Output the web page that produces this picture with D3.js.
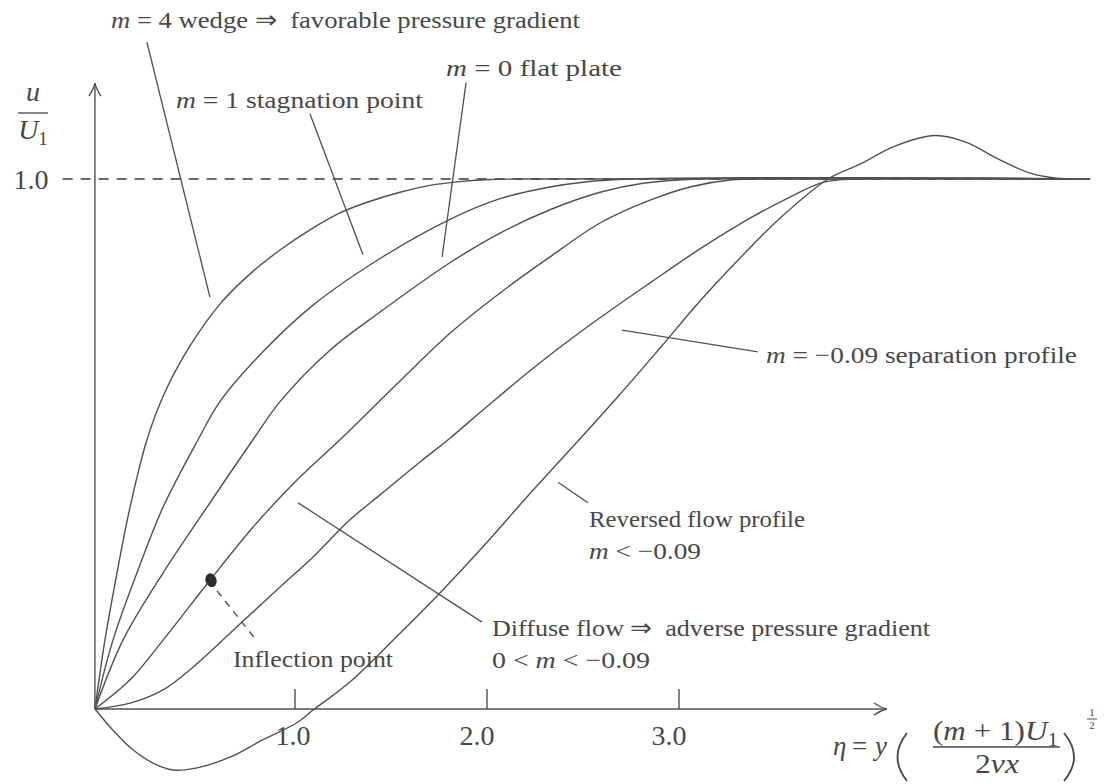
<!DOCTYPE html>
<html><head><meta charset="utf-8">
<script src="https://cdn.jsdelivr.net/npm/d3@7"></script>
<style>body{margin:0;background:#fff} svg{display:block} text{white-space:pre;font-family:"Liberation Serif","Tinos","Times New Roman",serif}</style>
</head><body>
<svg id="c" width="1105" height="784"></svg>
<script>
// ---- data (eta, u/U1) ----
const axisOrigin = -0.042;          // where the two axes cross (eta units)
const xTicks = [1.0, 2.0, 3.0];
const xTickLabels = ["1.0", "2.0", "3.0"];
const yTicks = [1.0];
const yTickLabels = ["1.0"];

const etaM4 = [-0.042, 0.010, 0.073, 0.141, 0.229, 0.323, 0.453, 0.609, 0.766, 0.922, 1.078, 1.234, 1.391, 1.547, 1.703, 1.859, 2.016, 2.224, 5.141];
const uM4   = [0, 0.130, 0.257, 0.381, 0.508, 0.598, 0.685, 0.764, 0.821, 0.866, 0.904, 0.936, 0.958, 0.975, 0.988, 0.995, 0.999, 1.0, 1.0];

const etaM1 = [-0.042, 0.052, 0.177, 0.313, 0.495, 0.609, 0.833, 1.094, 1.443, 1.807, 2.068, 2.328, 2.5, 2.75, 5.141];
const uM1   = [0, 0.130, 0.257, 0.381, 0.508, 0.580, 0.674, 0.762, 0.850, 0.924, 0.963, 0.985, 0.994, 1.0, 1.0];

const etaM0 = [-0.042, 0.104, 0.313, 0.542, 0.781, 0.922, 1.182, 1.443, 1.807, 2.068, 2.328, 2.589, 2.813, 3.1, 5.141];
const uM0   = [0, 0.130, 0.257, 0.381, 0.508, 0.580, 0.677, 0.749, 0.842, 0.898, 0.942, 0.975, 0.992, 1.0, 1.0];

const etaDiffuse = [-0.042, 0.141, 0.313, 0.557, 0.781, 1.010, 1.234, 1.547, 1.807, 2.068, 2.328, 2.589, 2.849, 3.057, 3.266, 3.526, 5.141];
const uDiffuse   = [0, 0.055, 0.130, 0.243, 0.343, 0.432, 0.508, 0.619, 0.709, 0.785, 0.853, 0.917, 0.960, 0.985, 0.998, 1.0, 1.0];

const etaSep = [-0.042, 0.141, 0.313, 0.453, 0.609, 0.724, 0.922, 1.094, 1.286, 1.443, 1.651, 1.807, 1.979, 2.240, 2.5, 2.849, 3.109, 3.370, 3.578, 3.755, 3.943, 5.141];
const uSep   = [0, 0.011, 0.036, 0.074, 0.125, 0.164, 0.230, 0.287, 0.357, 0.404, 0.466, 0.511, 0.564, 0.643, 0.715, 0.804, 0.868, 0.926, 0.966, 0.994, 1.0, 1.0];

const etaRev = [-0.042, 0.052, 0.156, 0.260, 0.365, 0.490, 0.661, 0.833, 1.010, 1.094, 1.286, 1.547, 1.755, 1.979, 2.208, 2.432, 2.693, 2.901, 3.115, 3.318, 3.526, 3.776, 3.943, 4.125, 4.333, 4.490, 4.672, 4.828, 4.958, 5.141];
const uRev   = [0, -0.040, -0.077, -0.102, -0.115, -0.111, -0.091, -0.058, -0.026, -0.002, 0.051, 0.143, 0.219, 0.306, 0.400, 0.489, 0.594, 0.681, 0.772, 0.851, 0.926, 1.0, 1.028, 1.062, 1.082, 1.070, 1.036, 1.011, 1.002, 1.0];

const refLineEta = [-0.21, 5.12];   // dashed u/U1 = 1.0 line
const inflection = [0.5625, 0.243]; // dot on the diffuse-flow profile

// annotation pointers: [eta1, u1, eta2, u2]
const pointers = [
  [0.229, 1.258, 0.557, 0.777],   // m = 4
  [1.078, 1.123, 1.354, 0.857],   // m = 1
  [1.891, 1.182, 1.766, 0.853],   // m = 0
  [2.703, 0.715, 3.411, 0.674],   // separation
  [2.370, 0.428, 2.526, 0.389],   // reversed
  [1.016, 0.389, 1.974, 0.164]    // diffuse
];
const inflectionPointer = [0.594, 0.223, 0.802, 0.128];

// ---- drawing ----
const svg = d3.select('#c');
const X = d3.scaleLinear().domain([0, 1]).range([103, 295]);
const Y = d3.scaleLinear().domain([0, 1]).range([709, 179]);
const ink = '#505050', txt = '#474747';
const tickLabelDx = [-2, -10, -10];

function rich(parent, segs, px, py, size, width, anchor) {
  const t = parent.append('text').attr('x', px).attr('y', py)
    .attr('font-size', size).attr('fill', txt)
    .attr('text-anchor', anchor || 'start');
  segs.forEach(([s, st]) => {
    const ts = t.append('tspan').text(s);
    if (st && st.includes('i')) ts.attr('font-style', 'italic');
    if (st && st.includes('s')) ts.attr('font-size', size * 0.68).attr('dy', size * 0.22);
  });
  if (width) t.attr('textLength', width).attr('lengthAdjust', 'spacingAndGlyphs');
  return t;
}

// reference dashed line
svg.append('line')
  .attr('x1', X(refLineEta[0])).attr('x2', X(refLineEta[1]))
  .attr('y1', Y(1)).attr('y2', Y(1))
  .attr('stroke', '#6a6a6a').attr('stroke-width', 1.8).attr('stroke-dasharray', '10,8');

// axes
const ax = svg.append('g').attr('stroke', ink).attr('fill', 'none').attr('stroke-width', 1.4);
const xEnd = 4.083, yEnd = 1.181;
ax.append('line').attr('x1', X(axisOrigin)).attr('x2', X(xEnd)).attr('y1', Y(0)).attr('y2', Y(0));
ax.append('line').attr('x1', X(axisOrigin)).attr('x2', X(axisOrigin)).attr('y1', Y(0)).attr('y2', Y(yEnd));
{
  const tx = X(xEnd), ty = Y(0);
  ax.append('path').attr('d', `M${tx-13},${ty-6} Q${tx-5},${ty-1} ${tx},${ty} Q${tx-5},${ty+1} ${tx-13},${ty+6}`);
  const ux = X(axisOrigin), uy = Y(yEnd);
  ax.append('path').attr('d', `M${ux-6},${uy+13} Q${ux-1},${uy+5} ${ux},${uy} Q${ux+1},${uy+5} ${ux+6},${uy+13}`);
}
// x ticks (drawn upward from the axis)
xTicks.forEach((v, i) => {
  ax.append('line').attr('x1', X(v)).attr('x2', X(v)).attr('y1', Y(0)).attr('y2', Y(0) - 20);
  rich(svg, [[xTickLabels[i]]], X(v) + tickLabelDx[i], Y(0) + 36, 28, 35, 'middle');
});
yTicks.forEach((v, i) => {
  rich(svg, [[yTickLabels[i]]], 31, Y(v) + 10, 28, 35, 'middle');
});

// curves
const line = d3.line().x(d => X(d[0])).y(d => Y(d[1])).curve(d3.curveCatmullRom.alpha(0.5));
const series = [[etaM4, uM4], [etaM1, uM1], [etaM0, uM0], [etaDiffuse, uDiffuse], [etaSep, uSep], [etaRev, uRev]];
series.forEach(([e, u]) => {
  svg.append('path').datum(e.map((v, i) => [v, u[i]])).attr('d', line)
    .attr('fill', 'none').attr('stroke', ink).attr('stroke-width', 1.4);
});

// pointers
pointers.forEach(p => {
  svg.append('line').attr('x1', X(p[0])).attr('y1', Y(p[1])).attr('x2', X(p[2])).attr('y2', Y(p[3]))
    .attr('stroke', ink).attr('stroke-width', 1.3);
});
svg.append('line').attr('x1', X(inflectionPointer[0])).attr('y1', Y(inflectionPointer[1]))
  .attr('x2', X(inflectionPointer[2])).attr('y2', Y(inflectionPointer[3]))
  .attr('stroke', ink).attr('stroke-width', 1.4).attr('stroke-dasharray', '7,6');
svg.append('ellipse').attr('cx', X(inflection[0])).attr('cy', Y(inflection[1]))
  .attr('rx', 5.5).attr('ry', 7).attr('fill', '#2e2e2e')
  .attr('transform', `rotate(-20 ${X(inflection[0])} ${Y(inflection[1])})`);

// annotation texts
const A = 24;
rich(svg, [['m', 'i'], [' = 4 wedge ⇒  favorable pressure gradient']], 111, 28, A, 469);
rich(svg, [['m', 'i'], [' = 1 stagnation point']], 176, 108, A, 247);
rich(svg, [['m', 'i'], [' = 0 flat plate']], 446, 76, A, 176);
rich(svg, [['m', 'i'], [' = −0.09 separation profile']], 766, 363, A, 311);
rich(svg, [['Reversed flow profile']], 589, 527, A, 216);
rich(svg, [['m', 'i'], [' < −0.09']], 589, 559, A, 112);
rich(svg, [['Diffuse flow ⇒  adverse pressure gradient']], 492, 636, A, 438);
rich(svg, [['0 < '], ['m', 'i'], [' < −0.09']], 492, 668, A, 158);
rich(svg, [['Inflection point']], 233, 667, A, 160);

// y-axis label u / U1
rich(svg, [['u', 'i']], 33, 101, 28, null, 'middle');
svg.append('line').attr('x1', 18).attr('x2', 48).attr('y1', 113).attr('y2', 113).attr('stroke', txt).attr('stroke-width', 1.3);
rich(svg, [['U', 'i'], ['1', 's']], 33, 139, 28, null, 'middle');

// x-axis label  eta = y ((m+1)U1 / 2 nu x)^(1/2)
const f = svg.append('g');
rich(f, [['η', 'i']], 833, 755, 27);
rich(f, [['=']], 852, 755, 27);
rich(f, [['y', 'i']], 875, 755, 27);
f.append('path').attr('d', 'M907,733 Q888,757 907,781').attr('stroke', txt).attr('fill', 'none').attr('stroke-width', 1.8);
rich(f, [['('], ['m', 'i'], [' + 1)'], ['U', 'i'], ['1', 's']], 933, 740, 27, 125);
f.append('line').attr('x1', 933).attr('x2', 1060).attr('y1', 747).attr('y2', 747).attr('stroke', txt).attr('stroke-width', 1.3);
rich(f, [['2'], ['νx', 'i']], 975, 773, 27, 44);
f.append('path').attr('d', 'M1064,733 Q1084,757 1064,781').attr('stroke', txt).attr('fill', 'none').attr('stroke-width', 1.8);
rich(f, [['1']], 1092, 716, 11, null, 'middle');
f.append('line').attr('x1', 1087).attr('x2', 1097).attr('y1', 719).attr('y2', 719).attr('stroke', txt).attr('stroke-width', 1);
rich(f, [['2']], 1092, 729, 11, null, 'middle');
</script>
</body></html>
